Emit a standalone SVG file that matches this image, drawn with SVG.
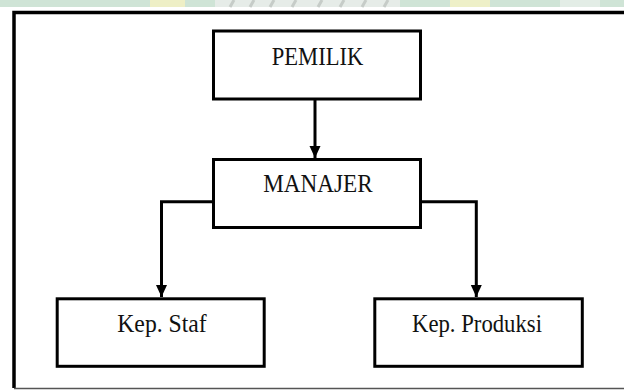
<svg xmlns="http://www.w3.org/2000/svg" width="624" height="390" viewBox="0 0 624 390">
  <defs>
    <style>
      .box { fill: #ffffff; stroke: #000000; stroke-width: 3; }
      .lbl { font-family: "Liberation Serif", "Times New Roman", serif; font-size: 24.5px; fill: #111111; text-anchor: middle; }
      .conn { fill: none; stroke: #000000; stroke-width: 3; }
    </style>
    <marker id="arrow" viewBox="0 0 12 12" refX="12" refY="6" markerWidth="12" markerHeight="12" markerUnits="userSpaceOnUse" orient="auto">
      <path d="M0,0.5 L12,6 L0,11.5 Z" fill="#000000"/>
    </marker>
  </defs>

  <rect x="0" y="0" width="624" height="390" fill="#ffffff"/>

  <!-- watermark strip -->
  <g id="watermark">
    <rect x="0" y="0" width="624" height="7" fill="#cfe4d6"/>
    <rect x="150" y="0" width="35" height="7" fill="#eeefc6"/>
    <rect x="215" y="0" width="185" height="7" fill="#e6ece8"/>
    <path d="M230,7 L234,0 M250,7 L254,0 M270,7 L274,0 M292,7 L296,0 M318,7 L322,0 M340,7 L344,0 M362,7 L366,0 M384,7 L388,0" stroke="#c6ccc8" stroke-width="3"/>
    <rect x="450" y="0" width="40" height="7" fill="#eef0c8"/>
    <rect x="560" y="0" width="40" height="7" fill="#e3ede6"/>
  </g>

  <!-- outer frame -->
  <g id="frame">
    <path d="M626,12.5 H14 V388" fill="none" stroke="#000000" stroke-width="3.5"/>
    <line x1="14" y1="388.5" x2="626" y2="388.5" stroke="#555555" stroke-width="1.5"/>
  </g>

  <g id="connectors">
    <line class="conn" x1="315" y1="100" x2="315" y2="158" marker-end="url(#arrow)"/>
    <polyline class="conn" points="212,201.8 161.5,201.8 161.5,297" marker-end="url(#arrow)"/>
    <polyline class="conn" points="422,201.8 476.3,201.8 476.3,297" marker-end="url(#arrow)"/>
  </g>

  <g id="pemilik">
    <rect class="box" x="213.5" y="31" width="207" height="68"/>
    <text class="lbl" x="317.5" y="65" textLength="91.5" lengthAdjust="spacingAndGlyphs">PEMILIK</text>
  </g>

  <g id="manajer">
    <rect class="box" x="213.5" y="159.5" width="207" height="68"/>
    <text class="lbl" x="318" y="191.7" textLength="109.5" lengthAdjust="spacingAndGlyphs">MANAJER</text>
  </g>

  <g id="kep-staf">
    <rect class="box" x="57.2" y="298.8" width="207" height="67.5"/>
    <text class="lbl" x="162" y="331.7" textLength="89.5" lengthAdjust="spacingAndGlyphs">Kep. Staf</text>
  </g>

  <g id="kep-produksi">
    <rect class="box" x="374.8" y="298.8" width="207.5" height="67.5"/>
    <text class="lbl" x="477" y="331.7" textLength="130" lengthAdjust="spacingAndGlyphs">Kep. Produksi</text>
  </g>
</svg>
